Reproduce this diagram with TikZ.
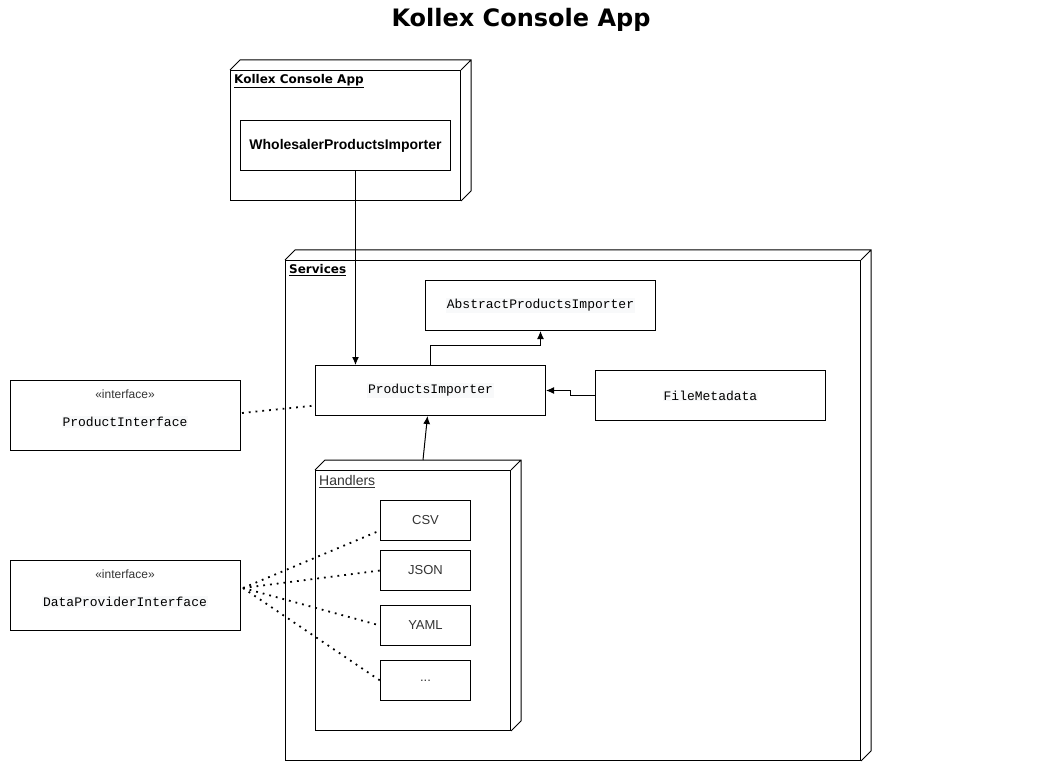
\documentclass[tikz,border=0pt]{standalone}
\usepackage{fontspec}
\setmainfont{Liberation Sans}
\setmonofont{Liberation Mono}
\newfontfamily\headfont{DejaVu Sans}
\usetikzlibrary{arrows.meta}

\definecolor{codebg}{HTML}{F8F9FA}
\definecolor{lbl}{HTML}{333333}
\newcommand\code[1]{{\setlength\fboxsep{1pt}\colorbox{codebg}{\ttfamily #1}}}
% depth faces of a node box
\newcommand\threed[1]{\draw[line width=1pt] (#1.north west) -- ++(10,-10) -- ([shift={(10,-10)}]#1.north east) -- ([shift={(10,-10)}]#1.south east) -- (#1.south east) (#1.north east) -- ++(10,-10);}

\tikzset{
  box/.style={draw, line width=1pt, anchor=north west, inner sep=0pt, align=center},
  mono/.style={font=\fontsize{13}{15}\selectfont},
  plain/.style={font=\fontsize{13}{15}\selectfont, text=lbl},
  stereo/.style={font=\fontsize{12}{14}\selectfont, text=lbl},
  head/.style={anchor=north west, inner sep=0pt, font=\headfont\bfseries\fontsize{12}{14}\selectfont},
  arr/.style={line width=1pt, -{Latex[length=8pt,width=7pt]}},
  dots/.style={line width=1.8pt, dash pattern=on 1.8pt off 5pt},
}

\begin{document}
\begin{tikzpicture}[x=1pt, y=-1pt]
  \useasboundingbox (0,0) rectangle (1042,762);

  \node[font=\headfont\bfseries\fontsize{24}{28}\selectfont] (title) at (521,20) {Kollex Console App};

  % console app
  \node[box, minimum width=230, minimum height=130] (app) at (230,70) {};
  \threed{app}
  \node[head] (applbl) at (234,74) {\underline{Kollex Console App}};
  \node[box, minimum width=210, minimum height=50, font=\bfseries\fontsize{14}{16}\selectfont] (wsp) at (240,120) {WholesalerProductsImporter};

  % services
  \node[box, minimum width=575, minimum height=500] (srv) at (285,260) {};
  \threed{srv}
  \node[head] (srvlbl) at (289,264) {\underline{Services}};
  \node[box, mono, minimum width=230, minimum height=50] (abs) at (425,280) {\code{AbstractProductsImporter}};
  \node[box, mono, minimum width=230, minimum height=50] (pim) at (315,365) {\code{ProductsImporter}};
  \node[box, mono, minimum width=230, minimum height=50] (meta) at (595,370) {\code{FileMetadata}};

  % handlers
  \node[box, minimum width=195, minimum height=260] (hnd) at (315,470) {};
  \threed{hnd}
  \node[anchor=north west, inner sep=0pt, plain, font=\fontsize{14}{16}\selectfont] (hndlbl) at (319,475) {\underline{Handlers}};
  \node[box, plain, minimum width=90, minimum height=40] (csv) at (380,500) {CSV};
  \node[box, plain, minimum width=90, minimum height=40] (json) at (380,550) {JSON};
  \node[box, plain, minimum width=90, minimum height=40] (yaml) at (380,605) {YAML};
  \node[box, plain, minimum width=90, minimum height=40] (etc) at (380,660) {...};

  % interfaces
  \node[box, minimum width=230, minimum height=70] (pif) at (10,380) {};
  \node[stereo] (pifst) at (125,394) {«interface»};
  \node[mono] (pifname) at (125,422) {\code{ProductInterface}};
  \node[box, minimum width=230, minimum height=70] (dpi) at (10,560) {};
  \node[stereo] (dpist) at (125,574) {«interface»};
  \node[mono] (dpiname) at (125,602) {\code{DataProviderInterface}};

  % connectors
  \draw[arr] ([xshift=10pt]wsp.south) -- ([xshift=10pt]wsp.south |- pim.north);
  \draw[arr] (pim.north) -- ++(0,-20) -| (abs.south);
  \draw[arr] (meta.west) -- ++(-25,0) |- (pim.east);
  \draw[arr] ([shift={(10,-10)}]hnd.north) -- ([xshift=-3pt]pim.south);

  \coordinate (pifout) at (242,413);
  \coordinate (dpiout) at (243,588);
  \draw[dots] (pifout) -- ([yshift=-15pt]pim.west);
  \draw[dots] (dpiout) -- ([yshift=-10pt]csv.west);
  \draw[dots] (dpiout) -- (json.west);
  \draw[dots] (dpiout) -- (yaml.west);
  \draw[dots] (dpiout) -- (etc.west);
\end{tikzpicture}
\end{document}
